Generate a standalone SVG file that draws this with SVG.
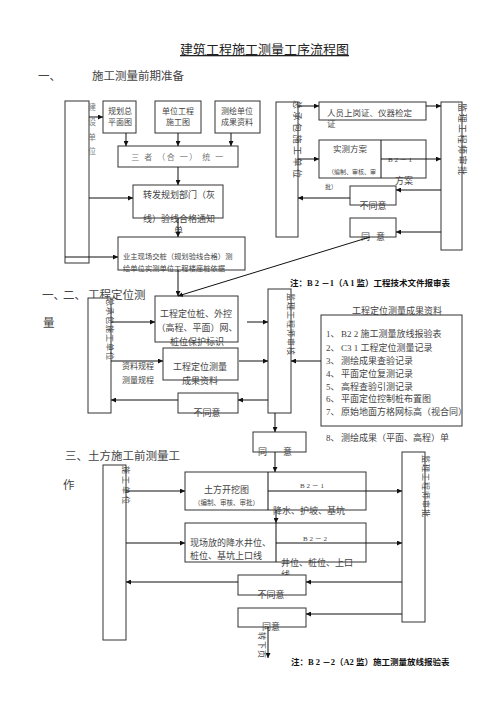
<svg xmlns="http://www.w3.org/2000/svg" width="496" height="702" viewBox="0 0 496 702">
<defs>
<marker id="ah" viewBox="0 0 10 10" refX="10" refY="5" markerWidth="5" markerHeight="5" markerUnits="userSpaceOnUse" orient="auto"><path d="M0,0 L10,5 L0,10 z" fill="#111"/></marker>
<style>
.b{fill:#fff;stroke:#333;stroke-width:1}
.c{fill:none;stroke:#111;stroke-width:1;marker-end:url(#ah)}
.l{fill:none;stroke:#111;stroke-width:1}
text{font-family:"Liberation Serif","Noto Sans CJK SC",serif;fill:#444}
.s6{font-size:6px}.s7{font-size:7px}.s8{font-size:8px}.s9{font-size:9px}.s11{font-size:11.5px}
.bold{font-weight:bold;fill:#111}
.m{text-anchor:middle}
</style>
</defs>
<rect width="496" height="702" fill="#fff"/>
<text x="180" y="54" style="font-size:13px;fill:#222" text-decoration="underline">建筑工程施工测量工序流程图</text>
<text x="38" y="80" class="s11">一、</text>
<text x="92" y="80" class="s11">施工测量前期准备</text>

<g id="s1-left-col"><rect class="b" x="65" y="101" width="24" height="162"/>
<text class="s8" x="88" y="110" style="fill:#777">建</text><text class="s8" x="88" y="125" style="fill:#777">设</text><text class="s8" x="88" y="140" style="fill:#777">单</text><text class="s8" x="88" y="154" style="fill:#777">位</text></g>
<g id="n-guihua"><rect class="b" x="103" y="101" width="33" height="32"/><text class="s8 m" x="120" y="114">规划总</text><text class="s8 m" x="120" y="125">平面图</text></g>
<g id="n-danwei"><rect class="b" x="155" y="101" width="46" height="32"/><text class="s8 m" x="178" y="114">单位工程</text><text class="s8 m" x="178" y="125">施工图</text></g>
<g id="n-cehui"><rect class="b" x="215" y="101" width="45" height="32"/><text class="s8 m" x="237" y="114">测绘单位</text><text class="s8 m" x="237" y="125">成果资料</text></g>
<g id="n-sanzhe"><rect class="b" x="118" y="146" width="120" height="21"/><text class="s8 m" x="178" y="160" style="fill:#777;letter-spacing:1.5px">三 者 （合 一） 统 一</text></g>
<g id="n-zhuanfa"><rect class="b" x="133" y="185" width="90" height="33"/><text class="s9" x="143" y="198">转发规划部门（灰</text><text class="s9" x="143" y="222">线）验线合格通知</text><text class="s9" x="174" y="234">单</text></g>
<g id="n-yezhu"><rect class="b" x="118" y="237" width="127" height="33"/><text x="123" y="259" style="font-size:7.3px">业主现场交桩（规划验线合格）测</text><text x="123" y="271" style="font-size:7.3px">绘单位实测单位工程楼座桩依据</text></g>

<g id="s1-zcb-col"><rect class="b" x="276" y="102" width="22" height="135"/><text class="s9" transform="translate(294,100) rotate(90)" style="letter-spacing:2.5px">总承包施工单位</text></g>
<g id="n-renyuan"><rect class="b" x="319" y="102" width="107" height="18"/><text x="327" y="116" style="font-size:8.5px">人员上岗证、仪器检定</text><text x="327" y="127" style="font-size:8.5px">证</text></g>
<g id="n-shice"><rect class="b" x="319" y="140" width="107" height="38"/><line class="l" x1="381" y1="140" x2="381" y2="178"/><text x="333" y="152" style="font-size:8.5px">实测方案</text><text class="s6" x="328" y="174">（编制、审核、审</text><text class="s6" x="325" y="189">批）</text><text class="s7" x="388" y="162">B 2 － 1</text><text class="s9" x="395" y="184">方案</text></g>
<g id="n-s1-bty"><rect class="b" x="350" y="186" width="46" height="19"/><text class="s9 m" x="373" y="209">不同意</text></g>
<g id="n-s1-ty"><rect class="b" x="350" y="218" width="46" height="19"/><text class="s9" x="361" y="240">同</text><text class="s9" x="376" y="240">意</text></g>
<g id="s1-jl-col"><rect class="b" x="441" y="102" width="21" height="148"/><text class="s9" transform="translate(459,103) rotate(90)" style="letter-spacing:1.5px">监理工程师审批</text></g>
<text class="bold" x="290" y="286" style="font-size:8.5px">注：B 2 －1（A 1 监）工程技术文件报审表</text>

<text x="42" y="299" style="font-size:11.5px">一、</text><text x="63" y="299" style="font-size:11.5px">二、</text><text x="88" y="299" style="font-size:11.5px">工程定位测</text>
<text x="43" y="327" style="font-size:11.5px">量</text>
<g id="s2-left-col"><rect class="b" x="88" y="298" width="23" height="115"/><text class="s8" transform="translate(107,298) rotate(90)" style="letter-spacing:1px">总承包施工单位</text></g>
<g id="n-dingweizhuang"><rect class="b" x="155" y="296" width="83" height="46"/><text class="s9 m" x="196" y="317">工程定位桩、外控</text><text class="s9 m" x="197" y="331">（高程、平面）网、</text><text class="s9 m" x="197" y="345">桩位保护标识</text></g>
<g id="n-dwcl"><rect class="b" x="163" y="348" width="75" height="32"/><text class="s9 m" x="200" y="370">工程定位测量</text><text class="s9 m" x="200" y="384">成果资料</text></g>
<text class="s8" x="122" y="369">资料规程</text><text class="s8" x="122" y="383">测量规程</text>
<g id="n-s2-bty"><rect class="b" x="178" y="393" width="60" height="20"/><text class="s9 m" x="207" y="416">不同意</text></g>
<g id="s2-jl-col"><rect class="b" x="268" y="289" width="23" height="124"/><text class="s8" transform="translate(288,293) rotate(90)" style="letter-spacing:1px">监理工程师审核</text></g>
<g id="n-s2-ty"><rect class="b" x="253" y="432" width="53" height="20"/><text class="s9" x="258" y="455">同</text><text class="s9" x="283" y="455">意</text></g>
<g id="n-results"><text class="s9" x="352" y="314">工程定位测量成果资料</text><rect class="b" x="321" y="315" width="141" height="111"/>
<text class="s9" x="326" y="337">1、</text><text class="s9" x="341" y="337">B2 2 施工测量放线报验表</text>
<text class="s9" x="326" y="351">2、</text><text class="s9" x="341" y="351">C3 1 工程定位测量记录</text>
<text class="s9" x="326" y="364">3、</text><text class="s9" x="341" y="364">测绘成果查验记录</text>
<text class="s9" x="326" y="377">4、</text><text class="s9" x="341" y="377">平面定位复测记录</text>
<text class="s9" x="326" y="390">5、</text><text class="s9" x="341" y="390">高程查验引测记录</text>
<text class="s9" x="326" y="402">6、</text><text class="s9" x="341" y="402">平面定位控制桩布置图</text>
<text class="s9" x="326" y="415">7、</text><text class="s9" x="341" y="415">原始地面方格网标高（视合同）</text>
<text class="s9" x="326" y="441">8、</text><text class="s9" x="341" y="441">测绘成果（平面、高程）单</text></g>

<text x="65" y="460" style="font-size:11.5px">三、土方施工前测量工</text>
<text x="63" y="489" style="font-size:11.5px">作</text>
<g id="s3-left-col"><rect class="b" x="103" y="465" width="23" height="175"/><text class="s8" transform="translate(123,466) rotate(90)" style="letter-spacing:2px">施工单位</text></g>
<g id="n-tufang"><rect class="b" x="185" y="472" width="181" height="38"/><line class="l" x1="268" y1="472" x2="268" y2="510"/><text class="s9" x="204" y="493">土方开挖图</text><text x="194" y="505" style="font-size:6.5px">（编制、审核、审批）</text><text class="s7" x="300" y="488">B 2 － 1</text></g>
<text class="s9" x="273" y="514">降水、护坡、基坑</text>
<g id="n-xianchang"><rect class="b" x="185" y="523" width="181" height="39"/><line class="l" x1="276" y1="523" x2="276" y2="562"/><text class="s9" x="190" y="546">现场放的降水井位、</text><text class="s9" x="190" y="559">桩位、基坑上口线</text><text class="s7" x="303" y="541">B 2 － 2</text></g>
<text class="s9" x="281" y="566">井位、桩位、上口</text><text class="s9" x="281" y="578">线</text>
<g id="n-s3-bty"><rect class="b" x="238" y="575" width="68" height="20"/><text class="s9 m" x="271" y="598">不同意</text></g>
<g id="n-s3-ty"><rect class="b" x="238" y="608" width="68" height="19"/><text class="s9 m" x="271" y="630">同意</text></g>
<g id="s3-jl-col"><rect class="b" x="402" y="452" width="23" height="170"/><text class="s8" transform="translate(423,455) rotate(90)" style="letter-spacing:1px">监理工程师审批</text></g>
<text class="s8" transform="translate(259,632) rotate(90)" style="letter-spacing:1px">转下页</text>
<text class="bold" x="291" y="665" style="font-size:8.5px">注：B 2 －2（A2 监）施工测量放线报验表</text>

<g id="connectors">
<path class="c" d="M89,117 H103"/>
<path class="c" d="M126,133 V146"/>
<path class="c" d="M178,133 V146"/>
<path class="c" d="M231,133 V146"/>
<path class="c" d="M178,167 V185"/>
<path class="c" d="M89,198 H133"/>
<path class="c" d="M178,218 V237"/>
<path class="c" d="M65,257 H118"/>
<path class="c" d="M298,106 H319"/>
<path class="c" d="M426,106 H441"/>
<path class="c" d="M298,159 H319"/>
<path class="c" d="M381,159 H441"/>
<path class="c" d="M441,190 H396"/>
<path class="c" d="M350,198 H298"/>
<path class="c" d="M441,232 H396"/>
<path class="c" d="M178,270 V296"/>
<path class="c" d="M370,237 L178,296"/>
<path class="c" d="M111,322 H155"/>
<path class="c" d="M247,322 H268"/>
<path class="c" d="M111,361 H163"/>
<path class="c" d="M239,361 H268"/>
<path class="c" d="M321,361 H291"/>
<path class="c" d="M268,400 H238"/>
<path class="c" d="M178,400 H111"/>
<path class="c" d="M275,413 V432"/>
<path class="c" d="M275,452 V472"/>
<path class="c" d="M126,491 H185"/>
<path class="c" d="M268,491 H402"/>
<path class="c" d="M276,510 V523"/>
<path class="c" d="M126,543 H185"/>
<path class="c" d="M276,543 H402"/>
<path class="c" d="M402,582 H306"/>
<path class="c" d="M238,582 H126"/>
<path class="c" d="M402,614 H306"/>
<path class="c" d="M268,627 V658"/>
</g>
</svg>
